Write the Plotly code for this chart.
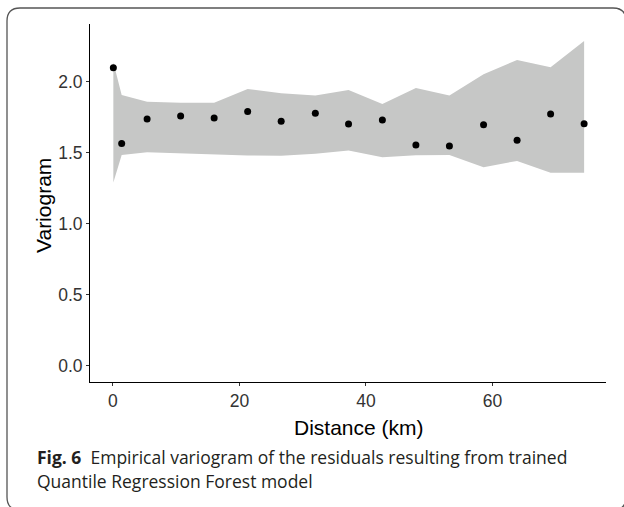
import plotly.graph_objects as go

# ---- data ----
distance_km = [0.06, 1.38, 5.4, 10.7, 16.0, 21.3, 26.6, 32.0, 37.25, 42.6, 47.9, 53.2, 58.6, 63.9, 69.2, 74.5]
variogram = [2.10, 1.566, 1.739, 1.761, 1.746, 1.791, 1.723, 1.780, 1.704, 1.732, 1.556, 1.549, 1.699, 1.589, 1.775, 1.706]
band_upper = [2.139, 1.908, 1.861, 1.854, 1.854, 1.950, 1.920, 1.904, 1.944, 1.845, 1.958, 1.904, 2.054, 2.155, 2.103, 2.289]
band_lower = [1.291, 1.486, 1.505, 1.495, 1.491, 1.482, 1.481, 1.495, 1.518, 1.470, 1.484, 1.486, 1.399, 1.444, 1.361, 1.361]
y_ticks = [0.0, 0.5, 1.0, 1.5, 2.0]
y_tick_labels = ["0.0", "0.5", "1.0", "1.5", "2.0"]
x_ticks = [0, 20, 40, 60]
x_tick_labels = ["0", "20", "40", "60"]

W, H = 624, 507
ML, MR, MT, MB = 90, 18, 24, 125
PW, PH = W - ML - MR, H - MT - MB


def px_to_paper_x(px):
    return (px - ML) / PW


def px_to_paper_y(py):
    return (H - MB - py) / PH


fig = go.Figure()

fig.add_trace(go.Scatter(
    x=distance_km + distance_km[::-1],
    y=band_upper + band_lower[::-1],
    fill="toself",
    fillcolor="#c6c7c6",
    line=dict(width=0, color="#c6c7c6"),
    mode="lines",
    hoverinfo="skip",
    showlegend=False,
))

fig.add_trace(go.Scatter(
    x=distance_km,
    y=variogram,
    mode="markers",
    marker=dict(color="black", size=7),
    showlegend=False,
))

axis_font = dict(family="Liberation Sans, Arial, sans-serif", size=17.5, color="#333333")

fig.update_xaxes(
    range=[-3.63, 77.96],
    tickvals=x_ticks,
    ticktext=x_tick_labels,
    showline=True, linecolor="black", linewidth=1,
    ticks="outside", ticklen=3, tickwidth=1, tickcolor="#333333",
    showgrid=False, zeroline=False,
    tickfont=axis_font,
)
fig.update_yaxes(
    range=[-0.113, 2.408],
    tickvals=y_ticks,
    ticktext=y_tick_labels,
    showline=True, linecolor="black", linewidth=1,
    ticks="outside", ticklen=3, tickwidth=1, tickcolor="#333333",
    showgrid=False, zeroline=False,
    tickfont=axis_font,
)

title_font = dict(family="Liberation Sans, Arial, sans-serif", size=21, color="black")
caption_font = dict(family="Open Sans, sans-serif", size=17.5, color="#231f20")

# frame (rounded rectangle) in paper coordinates
left, right, top, bottom, r = 7, 626, 8, 510, 13
xl, xr = px_to_paper_x(left), px_to_paper_x(right)
yt, yb = px_to_paper_y(top), px_to_paper_y(bottom)
rx, ry = r / PW, r / PH
path = (f"M {xl+rx},{yt} L {xr-rx},{yt} Q {xr},{yt} {xr},{yt-ry} "
        f"L {xr},{yb+ry} Q {xr},{yb} {xr-rx},{yb} "
        f"L {xl+rx},{yb} Q {xl},{yb} {xl},{yb+ry} "
        f"L {xl},{yt-ry} Q {xl},{yt} {xl+rx},{yt} Z")

fig.update_layout(
    width=W, height=H,
    margin=dict(l=ML, r=MR, t=MT, b=MB, autoexpand=False),
    plot_bgcolor="white", paper_bgcolor="white",
    shapes=[dict(type="path", path=path, xref="paper", yref="paper",
                 line=dict(color="#555555", width=1.3), layer="above")],
    annotations=[
        dict(text="Variogram", xref="paper", yref="paper",
             x=px_to_paper_x(43), y=px_to_paper_y(206), textangle=-90,
             showarrow=False, font=title_font, xanchor="center", yanchor="middle"),
        dict(text="Distance (km)", xref="paper", yref="paper",
             x=px_to_paper_x(359), y=px_to_paper_y(427),
             showarrow=False, font=title_font, xanchor="center", yanchor="middle"),
        dict(text="<b>Fig. 6</b>  Empirical variogram of the residuals resulting from trained",
             xref="paper", yref="paper",
             x=px_to_paper_x(35), y=px_to_paper_y(457),
             showarrow=False, xanchor="left", yanchor="middle",
             font=caption_font),
        dict(text="Quantile Regression Forest model",
             xref="paper", yref="paper",
             x=px_to_paper_x(35), y=px_to_paper_y(480.5),
             showarrow=False, xanchor="left", yanchor="middle",
             font=caption_font),
    ],
)

fig.write_html("out.html")
